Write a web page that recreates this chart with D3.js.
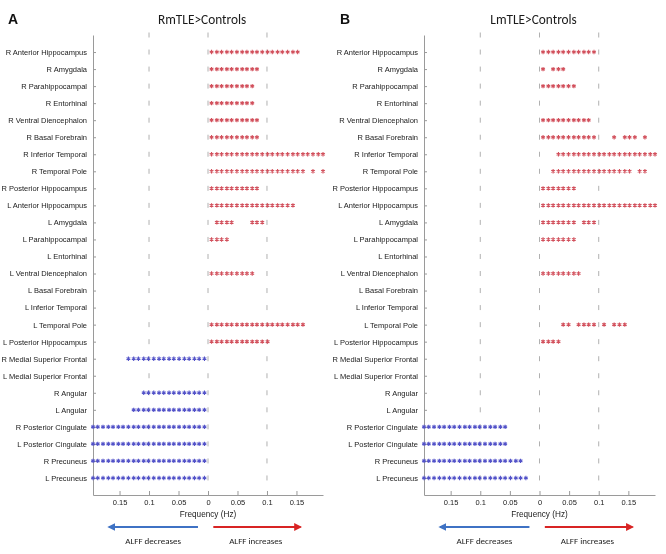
<!DOCTYPE html>
<html><head><meta charset="utf-8">
<script src="https://cdn.jsdelivr.net/npm/d3@7"></script>
<style>body{margin:0;background:#fff}svg{display:block;will-change:transform}</style>
</head><body>
<script>
// ---------- DATA ----------
const regions = ["R Anterior Hippocampus","R Amygdala","R Parahippocampal","R Entorhinal","R Ventral Diencephalon","R Basal Forebrain","R Inferior Temporal","R Temporal Pole","R Posterior Hippocampus","L Anterior Hippocampus","L Amygdala","L Parahippocampal","L Entorhinal","L Ventral Diencephalon","L Basal Forebrain","L Inferior Temporal","L Temporal Pole","L Posterior Hippocampus","R Medial Superior Frontal","L Medial Superior Frontal","R Angular","L Angular","R Posterior Cingulate","L Posterior Cingulate","R Precuneus","L Precuneus"];
// frequency bins (Hz)
const freqBins = [0.006,0.015,0.023,0.032,0.040,0.049,0.058,0.066,0.075,0.083,0.092,0.101,0.109,0.118,0.126,0.135,0.144,0.152,0.161,0.169,0.178,0.187,0.195];
// significant bins as runs [firstBin, lastBin] per region
const rmIncrease = [[[0,17]],[[0,9]],[[0,8]],[[0,8]],[[0,9]],[[0,9]],[[0,22]],[[0,18],[20,20],[22,22]],[[0,9]],[[0,16]],[[1,4],[8,10]],[[0,3]],[],[[0,8]],[],[],[[0,18]],[[0,11]],[],[],[],[],[],[],[],[]];
const rmDecrease = [[],[],[],[],[],[],[],[],[],[],[],[],[],[],[],[],[],[],[[0,15]],[],[[0,12]],[[0,14]],[[0,22]],[[0,22]],[[0,22]],[[0,22]]];
const lmIncrease = [[[0,10]],[[0,0],[2,4]],[[0,6]],[],[[0,9]],[[0,10],[14,14],[16,18],[20,20]],[[3,22]],[[2,17],[19,20]],[[0,6]],[[0,22]],[[0,6],[8,10]],[[0,6]],[],[[0,7]],[],[],[[4,5],[7,10],[12,12],[14,16]],[[0,3]],[],[],[],[],[],[],[],[]];
const lmDecrease = [[],[],[],[],[],[],[],[],[],[],[],[],[],[],[],[],[],[],[],[],[],[],[[6,22]],[[6,22]],[[3,22]],[[2,22]]];
const tickValues = [-0.15,-0.1,-0.05,0,0.05,0.1,0.15];
const tickLabels = ["0.15","0.1","0.05","0","0.05","0.1","0.15"];
const guideValues = [-0.1,0,0.1];
const titles = ["RmTLE>Controls","LmTLE>Controls"];
const letters = ["A","B"];

// ---------- CHART ----------
const W=666,H=554;
const svg=d3.select("body").append("svg").attr("width",W).attr("height",H);
const y=d3.scaleLinear().domain([-1,26]).range([35,495]);
const panels=[
  {x0:93,x1:323,letterX:8,inc:rmIncrease,dec:rmDecrease},
  {x0:424,x1:655,letterX:340,inc:lmIncrease,dec:lmDecrease}
];
const red="#d2505c", blue="#5252c8", gray="#9a9a9a";
const sym = d3.symbol().type(d3.symbolAsterisk || d3.symbolCross).size(13);

const defs=svg.append("defs");
[["arrBlue","#3f72c4"],["arrRed","#d82424"]].forEach(([id,c])=>{
  defs.append("marker").attr("id",id).attr("viewBox","0 0 10 10").attr("refX",8).attr("refY",5)
    .attr("markerWidth",4).attr("markerHeight",4).attr("orient","auto-start-reverse")
    .append("path").attr("d","M0,0L10,5L0,10z").attr("fill",c);
});

function expand(runs){const out=[];runs.forEach(([a,b])=>{for(let k=a;k<=b;k++)out.push(freqBins[k]);});return out;}

panels.forEach((p,pi)=>{
  const x=d3.scaleLinear().domain([-0.195,0.195]).range([p.x0,p.x1]);
  const g=svg.append("g");
  // letters & titles
  g.append("text").attr("x",p.letterX).attr("y",24).text(letters[pi])
    .attr("font-family","Liberation Sans, Arial, sans-serif").attr("font-weight","bold").attr("font-size",14).attr("fill","#111");
  g.append("text").attr("x",x(-0.01)).attr("y",24).attr("text-anchor","middle").text(titles[pi])
    .attr("font-family","Carlito, Calibri, Lato, sans-serif").attr("font-size",13.3).attr("fill","#1a1a1a");
  // guide dashes
  const rowsAll=d3.range(-1,26);
  guideValues.forEach(v=>{
    g.append("g").selectAll("line").data(rowsAll).join("line")
      .attr("x1",x(v)).attr("x2",x(v)).attr("y1",d=>y(d)-2.5).attr("y2",d=>y(d)+2.5)
      .attr("stroke","#b0b0b0").attr("stroke-width",1);
  });
  // y axis
  const ya=d3.axisLeft(y).tickValues(d3.range(26)).tickFormat(i=>regions[i]).tickSize(-3).tickSizeOuter(0).tickPadding(6);
  const yg=g.append("g").attr("transform",`translate(${p.x0},0)`).call(ya);
  yg.select(".domain").attr("stroke",gray);
  yg.selectAll(".tick line").attr("stroke",gray);
  yg.selectAll(".tick text").attr("font-family","Liberation Sans, Arial, sans-serif").attr("font-size",7.5).attr("fill","#1a1a1a");
  // x axis
  const xa=d3.axisBottom(x).tickValues(tickValues).tickFormat((d,i)=>tickLabels[i]).tickSize(-4).tickSizeOuter(0).tickPadding(5);
  const xg=g.append("g").attr("transform",`translate(0,${y(26)})`).call(xa);
  xg.select(".domain").attr("stroke",gray);
  xg.selectAll(".tick line").attr("stroke",gray);
  xg.selectAll(".tick text").attr("font-family","Liberation Sans, Arial, sans-serif").attr("font-size",7.5).attr("fill","#1a1a1a");
  g.append("text").attr("x",x(0)).attr("y",517).attr("text-anchor","middle").text("Frequency (Hz)")
    .attr("font-family","Liberation Sans, Arial, sans-serif").attr("font-size",8.2).attr("fill","#1a1a1a");
  // asterisks
  regions.forEach((r,i)=>{
    const pts=[...expand(p.inc[i]).map(f=>({f,c:red})),...expand(p.dec[i]).map(f=>({f:-f,c:blue}))];
    g.append("g").selectAll("path").data(pts).join("path")
      .attr("d",sym).attr("transform",d=>`translate(${x(d.f)},${y(i)})`)
      .attr("fill","none").attr("stroke",d=>d.c).attr("stroke-width",1.1);
  });
  // arrows
  g.append("line").attr("x1",x(-0.017)).attr("x2",x(-0.168)).attr("y1",527).attr("y2",527)
    .attr("stroke","#3f72c4").attr("stroke-width",2).attr("marker-end","url(#arrBlue)");
  g.append("line").attr("x1",x(0.009)).attr("x2",x(0.157)).attr("y1",527).attr("y2",527)
    .attr("stroke","#d82424").attr("stroke-width",2).attr("marker-end","url(#arrRed)");
  g.append("text").attr("x",x(-0.093)).attr("y",544).attr("text-anchor","middle").text("ALFF decreases")
    .attr("font-family","Carlito, Calibri, Lato, sans-serif").attr("font-size",9).attr("fill","#1a1a1a");
  g.append("text").attr("x",x(0.081)).attr("y",544).attr("text-anchor","middle").text("ALFF increases")
    .attr("font-family","Carlito, Calibri, Lato, sans-serif").attr("font-size",9).attr("fill","#1a1a1a");
});
</script>
</body></html>
